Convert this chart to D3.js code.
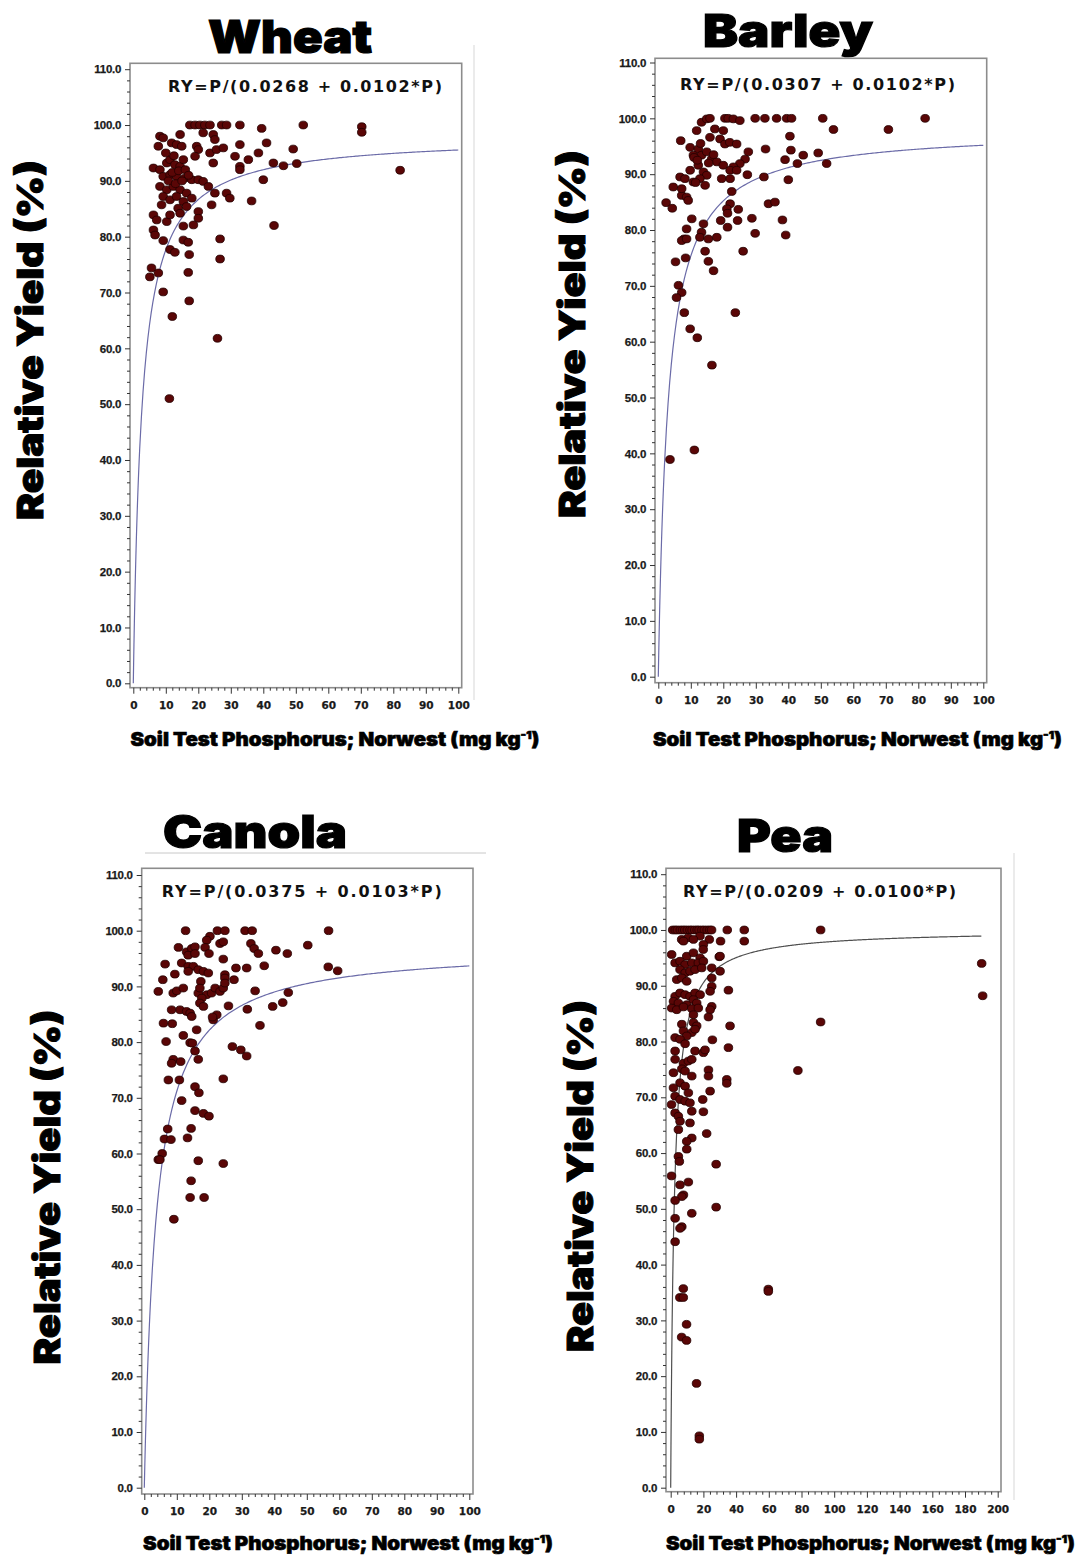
<!DOCTYPE html>
<html><head><meta charset="utf-8">
<script src="https://cdn.jsdelivr.net/npm/d3@7"></script>
<style>body{margin:0;background:#fff}</style>
</head><body>
<svg id="c" width="1078" height="1555"></svg>
<script>
// ---------------- DATA ----------------
const cropNames = ["Wheat", "Barley", "Canola", "Pea"];
const equations = ["RY=P/(0.0268 + 0.0102*P)", "RY=P/(0.0307 + 0.0102*P)", "RY=P/(0.0375 + 0.0103*P)", "RY=P/(0.0209 + 0.0100*P)"];
const coefA = [0.0268, 0.0307, 0.0375, 0.0209];
const coefB = [0.0102, 0.0102, 0.0103, 0.0100];
const curveEnd = [100, 100, 100, 190];
const yTickValues = [0, 10, 20, 30, 40, 50, 60, 70, 80, 90, 100, 110];
const xTickValues100 = [0, 10, 20, 30, 40, 50, 60, 70, 80, 90, 100];
const xTickValues200 = [0, 20, 40, 60, 80, 100, 120, 140, 160, 180, 200];
const yAxisTitle = "Relative Yield (%)";
const xAxisTitle = "Soil Test Phosphorus; Norwest (mg kg";

const wheatP = [17.4,19,20.5,22,23.6,27.2,28.7,32.8,39.5,52.3,70.3,70.3,
 8.2,9.2,14.4,7.7,11.8,13.3,14.9,19.5,20,19,21.5,24.6,25.1,23.6,25.6,27.7,32.8,31.3,35.4,38.5,41,24.6,32.8,32.8,43.1,46.2,50.3,49.2,82.1,40,
 6.2,8.2,10.3,11.3,12.8,14.4,15.4,9.2,11.3,13.3,15.9,18,20,21.5,
 8.2,10.3,12.3,14.4,16.4,18,9.2,11.3,13.3,15.4,23.1,25.1,28.7,29.7,36.4,
 8.7,13.8,16.4,14.4,24.1,6.2,7.2,10.3,11.3,20,20,18.5,15.4,43.3,
 6.2,6.7,9.2,15.4,16.9,11.3,12.8,26.7,17.2,26.7,
 5.6,5.1,7.7,16.9,9.2,17.2,12,25.9,11.1,
 12,14,10.8,13,16,12.5,10,17,15];
const wheatRY = [100,100,100,100,100,100,100,100,99.4,100,99.7,98.7,
 98,97.7,98.3,96.2,96.8,96.5,96.2,96.2,95.6,94.4,98.6,98.3,97.4,95,95.6,95.9,96.5,94.4,93.8,95,96.8,93.2,92.6,92,93.2,92.7,93.1,95.7,91.9,90.2,
 92.3,92,93.2,93.8,92.9,92.6,93.8,90.8,91.1,90.8,90.5,90.2,90.2,89.9,
 89,88.4,89,88.4,87.8,86.9,87.2,86.6,87.2,86.3,89,87.8,87.8,86.9,86.4,
 85.7,85.1,85.4,84.2,85.7,83.9,83,82.7,83.9,84.5,83.3,82.1,81.9,82,
 81.2,80.3,79.3,79.4,79,77.7,77.2,79.6,76.8,76,
 74.4,72.8,73.5,73.6,70.1,68.5,65.7,61.8,51,
 91.5,91.8,90,89.5,92,94.5,95,91,90];

const barleyP = [13.3,14.9,15.9,20.5,21.5,23.1,25.1,29.8,32.8,36.4,39.5,41,50.6,82.1,53.9,70.8,
 11.8,17.4,20,6.9,15.9,19,20.5,22,24.1,
 9.8,12.3,10.8,13.3,14.9,16.4,40.5,33,
 27.7,26.7,25.1,23.1,40.8,44.6,49.2,39,42.8,51.8,
 18,20,22.1,24.1,9.8,12.3,13.9,14.9,12.8,14.4,
 27.4,32.5,40,6.7,8.2,10.8,19.5,22.1,
 4.6,7.2,8.7,9.2,7.2,22.6,22.1,21.1,24.6,21.3,33.9,35.9,2.4,4.3,
 10.3,8.7,7.9,7.2,8.7,13.9,13.3,12.8,15.4,18,
 19.2,21.3,24.4,28.8,29.8,38.2,39.2,
 14.4,15.4,17,5.3,8.4,26.1,
 6.2,7.2,5.6,8,9.8,12,16.5,23.7,11.1,3.6,
 11,12,13,15.5,17,11.5];
const barleyRY = [99.3,99.9,100,100,100,99.9,99.6,100,100,100,100,100,100,100,98,98,
 97.8,98.1,97.8,96,96.6,96.3,95.4,95.7,95.4,
 94.8,94.5,93.4,93.4,94,92.7,96.8,94.5,
 94,92.7,91.9,91.3,94.3,93.4,93.8,92.6,91.9,91.9,
 92.2,91.6,90.7,90.7,90.7,91.6,90.4,89.8,89.2,88,
 89.9,89.5,89,89.5,89.2,88.6,89.2,89.2,
 87.7,86.2,85.9,85.3,87.4,86.9,84.7,83.8,83.7,83,84.7,85,84.9,83.9,
 82,80.2,78.4,78.1,78.4,81.1,79.6,78.7,78.4,78.7,
 81.7,80.5,81.7,82.1,79.4,81.8,79.1,
 76.2,74.4,72.7,74.3,75,76.2,
 70.1,68.8,67.9,65.2,62.3,60.7,55.8,65.2,40.6,38.9,
 93,92.5,95.5,92,93.5,88.5];

const canolaP = [12.7,20.2,22.5,24.8,31,33.2,56.7,19.2,23.3,24.3,
 10.5,13,14.6,15.6,13.5,15.6,18.7,19.9,
 32.8,33.8,35.1,40.5,44,50.3,24.3,
 6.4,11.5,13.5,15.1,13.5,16.6,18.2,19.7,
 28.2,31.5,36.9,56.6,59.5,
 5.7,9.4,17.4,24.8,24.8,27.6,
 4.3,8.9,10,12,
 16.6,17.1,19.2,20.7,21.8,23.3,24.3,24.8,
 17.7,17.1,18.2,34.1,44.3,42.6,39.5,25.9,31.7,
 8.4,11,13,14.1,14.6,21.2,22.3,21,
 5.9,8.6,16.1,35.6,
 12,14.1,14.8,6.7,15.6,27.1,29.7,31.5,
 8.9,11.2,8.4,16.6,7.4,10.8,24.3,15.6,16.8,11.5,
 15.6,18.2,19.9,
 7.2,14.4,6.2,8.2,13.3,5.5,4.3,4.8,16.6,24.3,14.4,14.1,18.4,9.1];
const canolaRY = [100,99,100,100,100,100,100,98.3,97.7,98,
 97,96.2,96.8,97.1,95.6,95.9,97,95.9,
 97.7,96.8,95.9,96.5,95.9,97.4,94.9,
 94,94.2,93.6,93.6,92.7,93,92.7,92.4,
 93.3,93.3,93.7,93.5,92.8,
 91.2,92.2,90.9,92.1,91.5,91.2,
 89.1,88.8,89.2,89.7,
 88.8,89.7,88.5,88.8,89.7,89.1,89.7,90.6,
 87.9,87,86.4,89.2,88.9,87.1,86.4,86.5,85.9,
 85.8,85.8,85.5,85.2,84.6,84,84.9,84.5,
 83.4,83.3,82.2,83,
 81.2,79.9,79.8,80.1,78.4,79.2,78.6,77.5,
 76.9,76.5,76.2,76.9,73.2,73.2,73.4,72,70.9,69.5,
 67.7,67.2,66.7,
 64.4,64.5,62.6,62.5,62.8,60,58.9,58.9,58.7,58.2,55.1,52.1,52.1,48.2];

const peaP = [1.2,2.8,4.1,5.9,7.3,8.6,10.2,11.8,13.1,14.7,16.2,17.4,19.1,20.6,22.3,23.8,25,
 34.6,45,91.7,
 6.7,10.7,17.9,23.6,30.5,45,7.8,13.9,20,
 19.9,0.6,29.7,9.8,13.9,18,30.2,
 2.7,5.7,8.8,12.9,16.9,20,
 5.7,8.8,11.8,14.9,19,25.1,30.2,
 3.7,6.8,9.8,25.1,25.1,24.1,35.3,
 2.7,5.7,8.8,11.8,14.9,18,
 1.7,4.7,9.8,13.9,15.9,
 0.6,3.7,7.8,12.9,16.9,25.1,24.1,
 13.9,23.1,6.8,13.9,15.9,36.3,
 7.8,12.9,14.9,2.7,9.8,5.7,25.5,8.8,35.3,
 2.7,14.9,20,21,
 2.7,7.8,10.8,12.9,6.8,8.8,23.1,23.1,
 1.7,12.9,5.7,34.3,34.3,
 1.7,8.8,10.8,24.1,
 2.7,5.7,8.8,11.8,19.6,
 0.5,2.7,4.7,12.9,20,
 5.7,11.8,4.7,22,
 12.9,9.8,9.8,4.7,5.3,27.8,
 0.5,5.7,10.8,7.8,6.8,2.7,27.8,12.9,2.7,6.8,5.7,2.7,
 7.7,5.6,7.7,59.7,59.7,9.7,6.7,9.7,15.8,17.5,17.5,
 190.2,190.8,91.7,77.8];
const peaRY = [100,100,100,100,100,100,100,100,100,100,100,100,100,100,100,100,100,
 100,100,100,
 98.3,98.6,98.9,98.3,98,98,98,98.3,97.4,
 96.5,95.6,95.2,95.3,95.9,95,95.3,
 94.1,94.4,93.8,94.1,94.1,94.4,
 92.9,92.3,92.6,92.9,93.2,93.2,92.6,
 91.1,91.4,90.8,91.4,89.9,89,89.2,
 88.1,88.7,88.4,88.1,88.7,88.4,
 87.2,86.9,86.6,87.5,86.9,
 86,85.7,86.2,85.9,86,86.3,85.7,
 84.8,84.4,83.1,83.4,82.8,82.8,
 81.9,81.6,82.2,80.7,81,80.4,80.3,79.6,78.9,
 78.3,78.3,78,78.5,
 76.8,76.1,76.5,76.8,75.1,74.7,74.9,73.8,
 74.4,73.8,72.6,73.2,72.5,
 71.7,72,70.8,71.1,
 70.2,69.6,69.3,69,69.6,
 68.7,67.2,66.6,67.5,67.4,
 65.7,65.4,64.2,63.5,
 62.7,62.1,60.7,59.4,58.5,58,
 55.9,54.3,54.8,52.5,52.2,51.5,50.3,49.2,48.3,46.8,46.5,44.1,
 35.7,34.1,34.1,35.6,35.2,29.3,27,26.4,18.7,9.3,8.7,
 94,88.2,83.5,74.8];

const seriesP = [wheatP, barleyP, canolaP, peaP];
const seriesRY = [wheatRY, barleyRY, canolaRY, peaRY];
const xDomainMax = [100, 100, 100, 200];

// ---------------- LAYOUT ----------------
const layout = [
 {L:130, R:461.7, T:63.3, B:687.7, x0:133.3, x1:458.3, y0:683.3, y1:69.2,
  tX:290, tY:53, tW:164, eX:305, eY:92, eW:274, ylX:30, ylY:340, ylW:360, xlX:335, xlY:746, xlW:409, lineColor:"#6b6ba8"},
 {L:655, R:986.7, T:58.3, B:682.7, x0:658.3, x1:983.3, y0:676.7, y1:62.5,
  tX:788, tY:47, tW:170, eX:817.5, eY:90, eW:275, ylX:572, ylY:334, ylW:368, xlX:857.5, xlY:746, xlW:409, lineColor:"#6b6ba8"},
 {L:141.7, R:473, T:868.3, B:1494, x0:144.3, x1:469.3, y0:1487.7, y1:875,
  tX:255, tY:848, tW:184, eX:301.7, eY:897, eW:280, ylX:47, ylY:1187, ylW:355, xlX:348, xlY:1550, xlW:410, lineColor:"#6b6ba8"},
 {L:666, R:1001, T:868.3, B:1491.7, x0:670.7, x1:997.7, y0:1487.7, y1:874.2,
  tX:785, tY:852, tW:96, eX:819.5, eY:897, eW:273, ylX:580, ylY:1176, ylW:352, xlX:870.5, xlY:1550, xlW:409, lineColor:"#4f4f4f"}
];

const heavy = "'Arial Black', 'Inter', 'Lato', 'DejaVu Sans', sans-serif";
const svg = d3.select("#c");

// faint paste artifacts
svg.append("line").attr("x1",474).attr("x2",474).attr("y1",45).attr("y2",700).attr("stroke","#e4e4e4").attr("stroke-width",1.5);
svg.append("line").attr("x1",145).attr("x2",486).attr("y1",853).attr("y2",853).attr("stroke","#c8c8c8").attr("stroke-width",1);
svg.append("line").attr("x1",1014).attr("x2",1014).attr("y1",853).attr("y2",1500).attr("stroke","#e4e4e4").attr("stroke-width",1.5);

cropNames.forEach((name, i) => {
  const g = layout[i];
  const x = d3.scaleLinear().domain([0, xDomainMax[i]]).range([g.x0, g.x1]);
  const y = d3.scaleLinear().domain([0, 110]).range([g.y0, g.y1]);
  const panel = svg.append("g");

  // frame
  panel.append("rect").attr("x", g.L).attr("y", g.T).attr("width", g.R - g.L).attr("height", g.B - g.T)
    .attr("fill", "#fff").attr("stroke", "#8c8c8c").attr("stroke-width", 1.6);

  // y axis minor + major
  const yMinor = d3.range(0, 110.01, 2).filter(v => v % 10 !== 0);
  const yAxG = panel.append("g").attr("transform", `translate(${g.L},0)`);
  yAxG.call(d3.axisLeft(y).tickValues(yMinor).tickSize(3).tickFormat(""));
  const yMaj = yAxG.append("g").call(d3.axisLeft(y).tickValues(yTickValues).tickSize(5).tickPadding(4).tickFormat(d => d.toFixed(1)));
  yMaj.selectAll(".tick text").attr("font-family", "'Liberation Sans', Arial, sans-serif")
    .attr("font-size", 11.5).attr("letter-spacing", -0.3);
  // x axis
  const step = xDomainMax[i] / 50;
  const xMajor = xDomainMax[i] === 200 ? xTickValues200 : xTickValues100;
  const xMinor = d3.range(0, xDomainMax[i] + 0.01, step).filter(v => Math.abs(v / (xDomainMax[i]/10) - Math.round(v / (xDomainMax[i]/10))) > 1e-6);
  const xAxG = panel.append("g").attr("transform", `translate(0,${g.B})`);
  xAxG.call(d3.axisBottom(x).tickValues(xMinor).tickSize(3).tickFormat(""));
  const xMaj = xAxG.append("g").call(d3.axisBottom(x).tickValues(xMajor).tickSize(6).tickPadding(8).tickFormat(d3.format("d")));
  xMaj.selectAll(".tick text").attr("font-family", "'DejaVu Sans', sans-serif").attr("font-size", 10.5);
  panel.selectAll(".domain").remove();
  panel.selectAll(".tick line").attr("stroke", "#333").attr("stroke-width", 1);
  panel.selectAll(".tick text").attr("font-weight", "bold").attr("fill", "#1a1a1a")
    .attr("stroke", "#1a1a1a").attr("stroke-width", 0.25);

  // fitted curve
  const pts = d3.range(0, 2, 0.01).concat(d3.range(2, curveEnd[i] + 0.001, 0.5))
    .map(p => [p, p / (coefA[i] + coefB[i] * p)]);
  panel.append("path").datum(pts)
    .attr("d", d3.line().x(d => x(d[0])).y(d => y(d[1])))
    .attr("fill", "none").attr("stroke", g.lineColor).attr("stroke-width", 1.2);

  // points
  const pts2 = seriesP[i].map((p, k) => ({p, ry: seriesRY[i][k]}));
  panel.append("g").selectAll("ellipse").data(pts2).join("ellipse")
    .attr("cx", d => x(d.p)).attr("cy", d => y(d.ry)).attr("rx", 4.3).attr("ry", 3.9)
    .attr("fill", "#5a0606").attr("stroke", "#220000").attr("stroke-width", 0.8);

  // equation
  panel.append("text").attr("x", g.eX).attr("y", g.eY).attr("text-anchor", "middle")
    .attr("font-family", "'DejaVu Sans', sans-serif").attr("font-weight", "bold").attr("font-size", 16)
    .attr("textLength", g.eW).attr("lengthAdjust", "spacing").attr("fill", "#111").text(equations[i]);

  // title
  panel.append("text").attr("x", g.tX).attr("y", g.tY).attr("text-anchor", "middle")
    .attr("font-family", heavy).attr("font-weight", 900).attr("font-size", 46)
    .attr("textLength", g.tW).attr("lengthAdjust", "spacingAndGlyphs")
    .attr("fill", "#000").attr("stroke", "#000").attr("stroke-width", 1.2).text(name);

  // y axis title
  panel.append("text").attr("transform", `translate(${g.ylX},${g.ylY}) rotate(-90)`)
    .attr("x", 0).attr("y", 13).attr("text-anchor", "middle")
    .attr("font-family", heavy).attr("font-weight", 900).attr("font-size", 36)
    .attr("textLength", g.ylW).attr("lengthAdjust", "spacingAndGlyphs")
    .attr("fill", "#000").attr("stroke", "#000").attr("stroke-width", 1).text(yAxisTitle);

  // x axis title
  const xt = panel.append("text").attr("x", g.xlX).attr("y", g.xlY).attr("text-anchor", "middle")
    .attr("font-family", heavy).attr("font-weight", 900).attr("font-size", 19)
    .attr("textLength", g.xlW).attr("lengthAdjust", "spacingAndGlyphs")
    .attr("fill", "#000").attr("stroke", "#000").attr("stroke-width", 0.6);
  xt.append("tspan").text(xAxisTitle);
  xt.append("tspan").attr("dy", -7).attr("font-size", 11).text("-1");
  xt.append("tspan").attr("dy", 7).text(")");
});
</script>
</body></html>
